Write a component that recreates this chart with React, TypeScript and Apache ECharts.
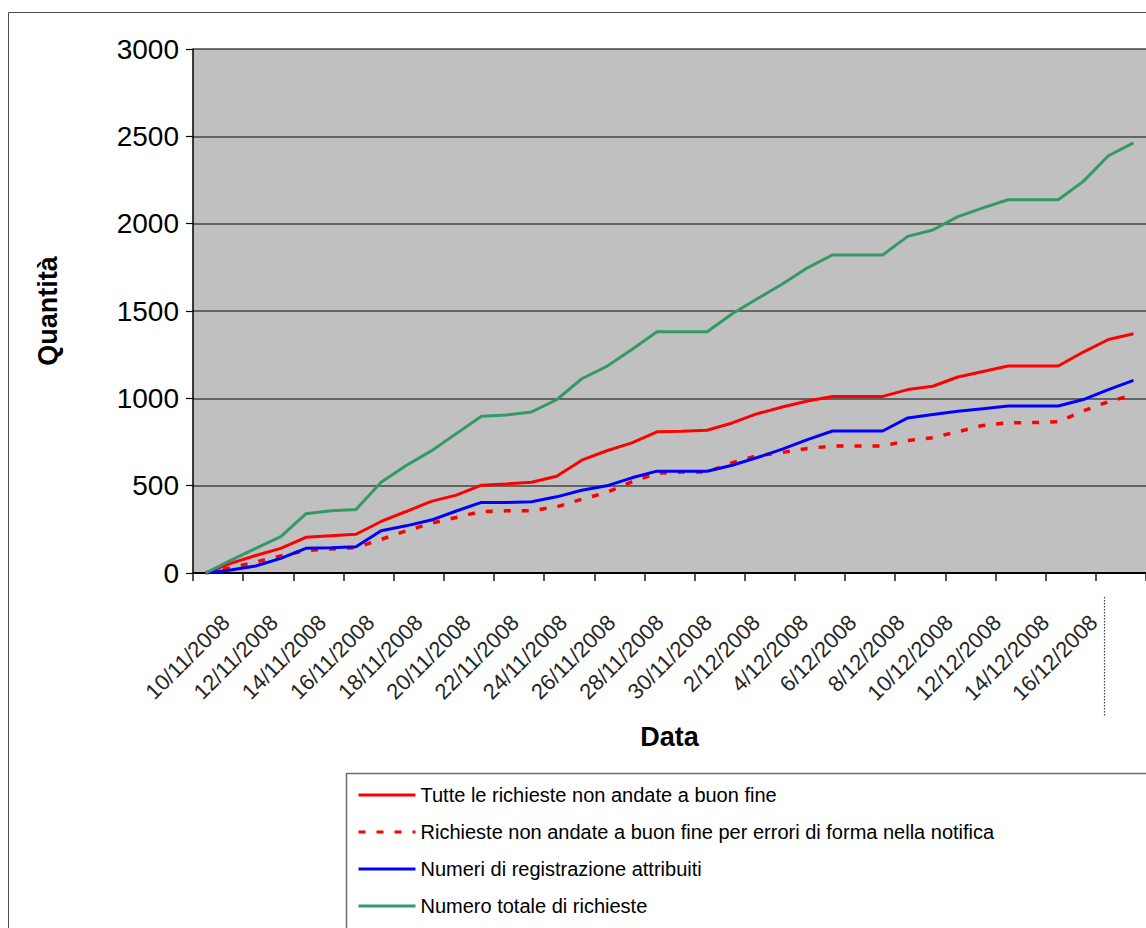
import React, { useEffect, useRef } from "react";
import * as echarts from "echarts";

const FONT = "'Liberation Sans', Arial, sans-serif";

// One category per day
const dates = [
  "10/11/2008", "11/11/2008", "12/11/2008", "13/11/2008", "14/11/2008", "15/11/2008",
  "16/11/2008", "17/11/2008", "18/11/2008", "19/11/2008", "20/11/2008", "21/11/2008",
  "22/11/2008", "23/11/2008", "24/11/2008", "25/11/2008", "26/11/2008", "27/11/2008",
  "28/11/2008", "29/11/2008", "30/11/2008", "1/12/2008", "2/12/2008", "3/12/2008",
  "4/12/2008", "5/12/2008", "6/12/2008", "7/12/2008", "8/12/2008", "9/12/2008",
  "10/12/2008", "11/12/2008", "12/12/2008", "13/12/2008", "14/12/2008", "15/12/2008",
  "16/12/2008", "17/12/2008",
];

// Axis labels are shown every second day
const tickLabels = dates.filter((_, i) => i % 2 === 0);

const seriesNames = [
  "Tutte le richieste non andate a buon fine",
  "Richieste non andate a buon fine per errori di forma nella notifica",
  "Numeri di registrazione attribuiti",
  "Numero totale di richieste",
];

const tutteNonAndate = [
  0, 55, 100, 141, 204, 213, 222, 295, 352, 410, 446, 503, 510, 520, 554, 646, 700, 745,
  808, 812, 817, 859, 912, 950, 985, 1011, 1011, 1011, 1050, 1069, 1122, 1154, 1185, 1185,
  1185, 1265, 1337, 1370,
];

const erroriForma = [
  0, 30, 63, 98, 128, 138, 145, 192, 241, 285, 318, 352, 356, 357, 379, 422, 462, 522,
  572, 578, 578, 631, 672, 690, 713, 727, 727, 727, 758, 775, 809, 845, 860, 861, 866,
  928, 981, 1020,
];

const numeriAttribuiti = [
  0, 17, 40, 84, 141, 145, 150, 242, 270, 303, 355, 404, 404, 408, 436, 474, 499, 545,
  583, 583, 583, 617, 661, 709, 764, 813, 813, 813, 888, 907, 926, 941, 956, 956, 956,
  993, 1050, 1103,
];

const totaleRichieste = [
  0, 72, 141, 208, 339, 356, 364, 520, 615, 699, 798, 897, 905, 922, 992, 1112, 1183,
  1280, 1381, 1381, 1381, 1484, 1570, 1655, 1747, 1821, 1821, 1821, 1927, 1964, 2040,
  2090, 2137, 2137, 2137, 2242, 2389, 2463,
];

const seriesColors = ["#ff0000", "#ff0000", "#0000ff", "#339966"];

export default function App() {
  const ref = useRef<HTMLDivElement>(null);

  useEffect(() => {
    if (!ref.current) return;
    const chart = echarts.init(ref.current, null, { renderer: "svg" });

    const values = [tutteNonAndate, erroriForma, numeriAttribuiti, totaleRichieste];

    chart.setOption({
      animation: false,
      backgroundColor: "#ffffff",
      textStyle: { fontFamily: FONT },
      graphic: [
        {
          type: "rect",
          silent: true,
          z: -10,
          shape: { x: 8.5, y: 12.5, width: 1200, height: 1000 },
          style: { fill: "none", stroke: "#4d4d4d", lineWidth: 1 },
        },
        {
          type: "rect",
          silent: true,
          z: 0,
          shape: { x: 346.5, y: 773.5, width: 900, height: 300 },
          style: { fill: "#ffffff", stroke: "#6e6e6e", lineWidth: 1.5 },
        },
        {
          type: "line",
          silent: true,
          shape: { x1: 1104.5, y1: 597, x2: 1104.5, y2: 717 },
          style: { stroke: "#444444", lineWidth: 1.2, lineDash: [1.5, 1.5] },
        },
      ],
      grid: [
        {
          left: 193,
          top: 49,
          right: -3,
          bottom: 355,
          show: true,
          backgroundColor: "#c0c0c0",
          borderWidth: 0,
        },
        // band that carries the date labels, slightly narrower than the plot
        { left: 194, width: 916, top: 49, bottom: 355, show: false },
      ],
      legend: {
        orient: "vertical",
        left: 357,
        top: 785,
        padding: 0,
        itemWidth: 57,
        itemHeight: 20,
        itemGap: 17,
        data: seriesNames,
        itemStyle: { opacity: 0 },
        lineStyle: { width: 3 },
        textStyle: { fontFamily: FONT, fontSize: 20, color: "#000000" },
      },
      xAxis: [
        {
          type: "category",
          gridIndex: 0,
          data: dates,
          boundaryGap: true,
          axisLine: { show: true, lineStyle: { color: "#000000", width: 2 } },
          axisTick: { show: true, interval: 1, length: 8, lineStyle: { color: "#1a1a1a", width: 1.5 } },
          axisLabel: { show: false },
          splitLine: { show: false },
          name: "Data",
          nameLocation: "middle",
          nameGap: 150,
          nameTextStyle: { fontFamily: FONT, fontWeight: "bold", fontSize: 27, color: "#000000" },
        },
        {
          type: "category",
          gridIndex: 1,
          data: tickLabels,
          position: "bottom",
          boundaryGap: true,
          axisLine: { show: false },
          axisTick: { show: false },
          splitLine: { show: false },
          axisLabel: {
            rotate: 45,
            interval: 0,
            margin: 38,
            verticalAlign: "top",
            fontSize: 22,
            fontFamily: FONT,
            color: "#262626",
          },
        },
      ],
      yAxis: [
        {
          type: "value",
          gridIndex: 0,
          min: 0,
          max: 3000,
          interval: 500,
          axisLine: { show: true, lineStyle: { color: "#000000", width: 1.5 } },
          axisTick: { show: true, length: 7, lineStyle: { color: "#000000", width: 1.2 } },
          axisLabel: {
            fontSize: 28,
            fontFamily: FONT,
            color: "#000000",
            margin: 14,
            formatter: (v: number) => String(v),
          },
          splitLine: { show: true, lineStyle: { color: "#444444", width: 1.5 } },
          name: "Quantità",
          nameLocation: "middle",
          nameGap: 132,
          nameRotate: 90,
          nameTextStyle: { fontFamily: FONT, fontWeight: "bold", fontSize: 27, color: "#000000" },
        },
        {
          type: "value",
          gridIndex: 1,
          show: false,
          min: 0,
          max: 1,
        },
      ],
      series: seriesNames.map((name, k) => ({
        name,
        type: "line",
        xAxisIndex: 0,
        yAxisIndex: 0,
        data: values[k],
        symbol: "none",
        color: seriesColors[k],
        lineStyle: {
          color: seriesColors[k],
          width: k === 1 ? 3.5 : 3,
          type: k === 1 ? [7, 11] : "solid",
        },
        emphasis: { disabled: true },
      })),
    });

    return () => chart.dispose();
  }, []);

  return (
    <div
      ref={ref}
      style={{ position: "absolute", left: 0, top: 0, width: 1146, height: 928, background: "#ffffff" }}
    />
  );
}
